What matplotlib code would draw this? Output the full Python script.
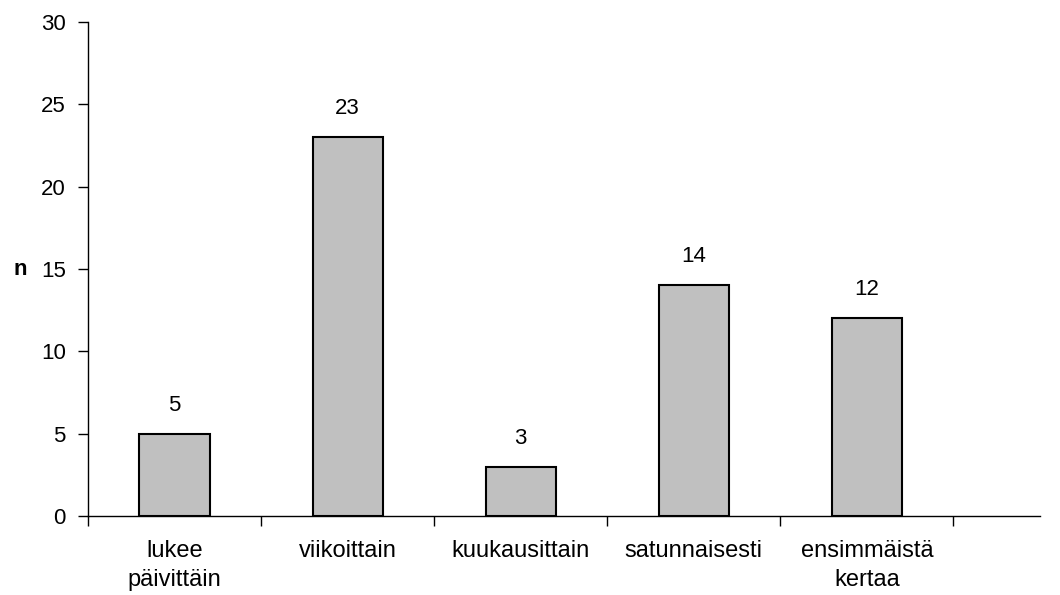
import matplotlib
matplotlib.use("Agg")
import matplotlib.pyplot as plt

categories = ["lukee\npäivittäin", "viikoittain", "kuukausittain", "satunnaisesti", "ensimmäistä\nkertaa"]
values = [5, 23, 3, 14, 12]
yticks = [0, 5, 10, 15, 20, 25, 30]

plt.rcParams['font.family'] = ['Liberation Sans', 'DejaVu Sans']

W, H, DPI = 1060, 595, 100
fig = plt.figure(figsize=(W / DPI, H / DPI), dpi=DPI)
ax = fig.add_axes([88 / W, 1 - 516 / H, (1040 - 88) / W, (516 - 22) / H])

x = list(range(len(categories)))
ax.bar(x, values, width=0.405, color="#c0c0c0", edgecolor="black", linewidth=1.5, zorder=3)
for xi, v in zip(x, values):
    ax.annotate(str(v), (xi, v), xytext=(0, 13), textcoords="offset points",
                ha="center", va="bottom", fontsize=16)

ax.set_xlim(-0.5, 5.0)
ax.set_ylim(0, 30)
ax.set_yticks(yticks)
ax.set_yticklabels([str(t) for t in yticks], fontsize=16)
ax.set_xticks([i - 0.5 for i in range(6)])
ax.set_xticklabels([])
ax.set_xticks(x, minor=True)
ax.set_xticklabels(categories, minor=True, fontsize=17, linespacing=1.42)
ax.tick_params(axis="x", which="minor", length=0, pad=17)
ax.tick_params(axis="x", which="major", length=7, width=1, color="black", direction="out")
ax.tick_params(axis="y", length=7, width=1, direction="out", pad=9)

for s in ["top", "right"]:
    ax.spines[s].set_visible(False)
ax.spines["left"].set_linewidth(1)
ax.spines["bottom"].set_linewidth(1)

fig.text(20 / W, 1 - 270 / H, "n", fontsize=16, fontweight="bold", ha="center", va="center")

fig.savefig("out.png", dpi=DPI)
